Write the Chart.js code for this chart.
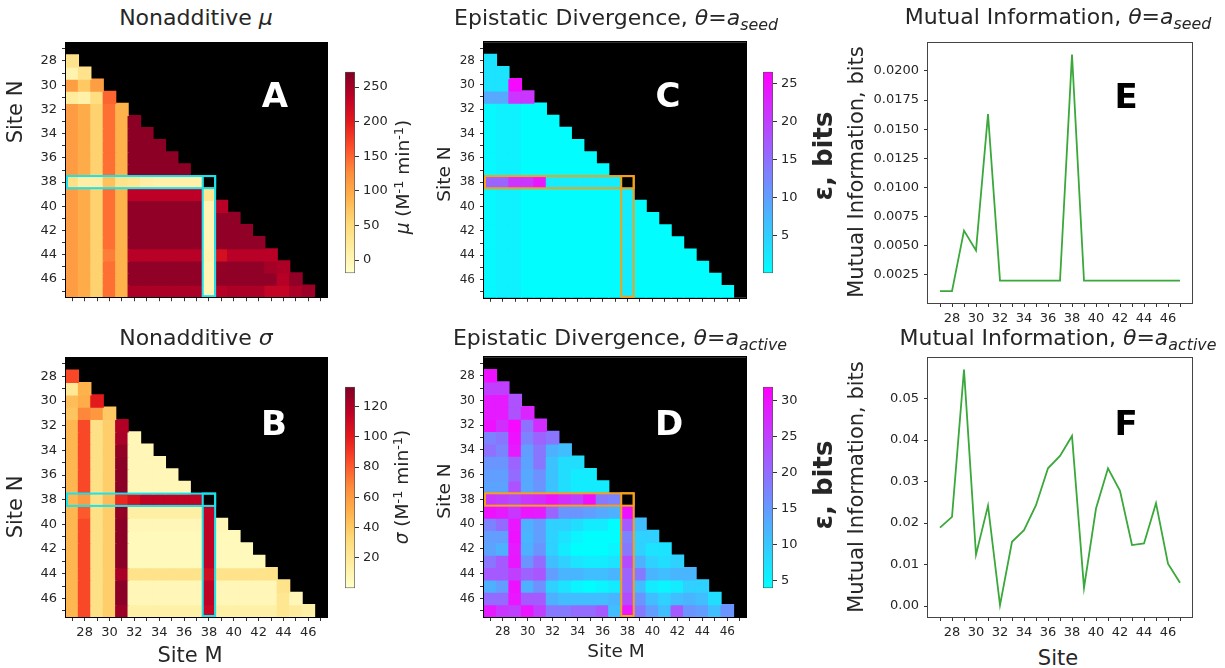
<!DOCTYPE html>
<html><head><meta charset="utf-8">
<script src="https://cdn.jsdelivr.net/npm/chart.js@4.4.0/dist/chart.umd.min.js"></script>
<style>
html,body{margin:0;padding:0;background:#fff;}
#wrap{position:relative;width:1225px;height:668px;overflow:hidden;font-family:'DejaVu Sans',sans-serif;color:#262626;}
canvas{position:absolute;}
.t{position:absolute;white-space:nowrap;transform:translate(-50%,-50%);line-height:1;}
.r{transform:translate(-50%,-50%) rotate(-90deg);}
.L{font-weight:bold;font-size:34px;}
sub{font-size:0.72em;vertical-align:-0.32em;line-height:0;}
sup{font-size:0.7em;vertical-align:0.45em;line-height:0;}
</style></head>
<body>
<div id="wrap">
<canvas id="hA" width="335" height="280" style="left:0px;top:30px"></canvas>
<canvas id="hB" width="335" height="300" style="left:0px;top:345px"></canvas>
<canvas id="hC" width="335" height="280" style="left:420px;top:30px"></canvas>
<canvas id="hD" width="335" height="300" style="left:420px;top:345px"></canvas>
<canvas id="cA" width="60" height="225" style="left:340px;top:60px"></canvas>
<canvas id="cB" width="60" height="225" style="left:340px;top:375px"></canvas>
<canvas id="cC" width="60" height="225" style="left:758px;top:60px"></canvas>
<canvas id="cD" width="60" height="225" style="left:758px;top:375px"></canvas>
<canvas id="lE" width="365" height="300" style="left:860px;top:30px"></canvas>
<canvas id="lF" width="365" height="300" style="left:860px;top:345px"></canvas>

<div class="t" style="left:196px;top:18px;font-size:22px">Nonadditive <i>μ</i></div>
<div class="t" style="left:616px;top:18px;font-size:22px">Epistatic Divergence, <i>θ</i>=<i>a</i><sub><i>seed</i></sub></div>
<div class="t" style="left:1058px;top:17px;font-size:22px">Mutual Information, <i>θ</i>=<i>a</i><sub><i>seed</i></sub></div>
<div class="t" style="left:196px;top:338px;font-size:22px">Nonadditive <i>σ</i></div>
<div class="t" style="left:620px;top:338px;font-size:22px">Epistatic Divergence, <i>θ</i>=<i>a</i><sub><i>active</i></sub></div>
<div class="t" style="left:1058px;top:338px;font-size:22px">Mutual Information, <i>θ</i>=<i>a</i><sub><i>active</i></sub></div>

<div class="t r" style="left:15px;top:112px;font-size:21px">Site N</div>
<div class="t r" style="left:15px;top:507px;font-size:21px">Site N</div>
<div class="t r" style="left:444px;top:174px;font-size:18.5px">Site N</div>
<div class="t r" style="left:444px;top:491px;font-size:18.5px">Site N</div>
<div class="t r" style="left:856px;top:172px;font-size:21px">Mutual Information, bits</div>
<div class="t r" style="left:856px;top:487px;font-size:21px">Mutual Information, bits</div>
<div class="t" style="left:190px;top:655px;font-size:21px">Site M</div>
<div class="t" style="left:616px;top:651px;font-size:18.5px">Site M</div>
<div class="t" style="left:1058px;top:658px;font-size:21px">Site</div>

<div class="t r" style="left:403px;top:177px;font-size:18.5px"><i>μ</i> (M<sup>-1</sup> min<sup>-1</sup>)</div>
<div class="t r" style="left:402px;top:487px;font-size:18.5px"><i>σ</i> (M<sup>-1</sup> min<sup>-1</sup>)</div>
<div class="t r" style="left:823px;top:156px;font-size:26px;font-weight:bold">ε, bits</div>
<div class="t r" style="left:823px;top:485px;font-size:26px;font-weight:bold">ε, bits</div>

<div class="t L" style="left:275px;top:95px;color:#fff">A</div>
<div class="t L" style="left:274px;top:423px;color:#fff">B</div>
<div class="t L" style="left:668px;top:95px;color:#fff">C</div>
<div class="t L" style="left:669px;top:423px;color:#fff">D</div>
<div class="t L" style="left:1126px;top:96px;color:#000">E</div>
<div class="t L" style="left:1126px;top:423px;color:#000">F</div>
</div>

<script>
// ---------------- data ----------------
const sites = [27,28,29,30,31,32,33,34,35,36,37,38,39,40,41,42,43,44,45,46,47];
const highlightSite = 38;

// Nonadditive mu: row N (28..47), values for M = 27..N-1
const muRows = [
  [35],
  [5, 35],
  [110, 70, 110],
  [20, 10, 45, 150],
  [112, 97, 60, 144, 90],
  [112, 97, 60, 144, 90, 265],
  [112, 97, 60, 144, 90, 265, 265],
  [112, 97, 60, 144, 90, 265, 265, 265],
  [112, 97, 60, 144, 90, 265, 265, 265, 265],
  [112, 97, 60, 144, 90, 265, 265, 265, 265, 265],
  [40, 15, 15, 75, 35, 30, 15, 10, 10, 10, 10],
  [112, 97, 60, 144, 90, 235, 235, 235, 235, 235, 235, 30],
  [112, 97, 60, 144, 90, 262, 262, 262, 262, 262, 262, 0, 238],
  [112, 97, 60, 144, 90, 262, 262, 262, 262, 262, 262, 0, 262, 262],
  [112, 97, 60, 144, 90, 262, 262, 262, 262, 262, 262, 0, 262, 262, 262],
  [112, 97, 60, 144, 90, 262, 262, 262, 262, 262, 262, 0, 262, 262, 262, 262],
  [112, 97, 60, 135, 90, 238, 238, 238, 238, 238, 238, 5, 215, 238, 238, 238, 238],
  [112, 97, 60, 144, 90, 262, 262, 262, 262, 262, 262, 0, 260, 262, 262, 262, 250, 245],
  [112, 97, 60, 144, 90, 262, 262, 262, 262, 262, 262, 0, 262, 262, 262, 262, 262, 240, 262],
  [112, 97, 60, 144, 90, 245, 245, 245, 245, 245, 245, 0, 240, 245, 245, 245, 230, 230, 245, 255]
];
const muRange = [-19, 272];
const muTicks = [0, 50, 100, 150, 200, 250];

// Nonadditive sigma
const sigmaRows = [
  [85],
  [20, 50],
  [45, 52, 100],
  [42, 68, 62, 40],
  [48, 85, 27, 38, 120],
  [48, 85, 27, 38, 122, 8],
  [48, 85, 27, 38, 128, 8, 8],
  [48, 85, 27, 38, 130, 8, 8, 8],
  [48, 85, 27, 38, 130, 8, 8, 8, 8],
  [48, 85, 27, 38, 130, 8, 8, 8, 8, 8],
  [48, 60, 27, 45, 95, 105, 115, 115, 115, 115, 115],
  [48, 80, 27, 38, 128, 15, 15, 15, 15, 15, 15, 115],
  [48, 85, 27, 38, 130, 8, 8, 8, 8, 8, 8, 115, 8],
  [48, 85, 27, 38, 130, 6, 6, 6, 6, 6, 6, 115, 6, 6],
  [48, 85, 27, 38, 130, 6, 6, 6, 6, 6, 6, 115, 6, 6, 6],
  [48, 85, 27, 38, 130, 6, 6, 6, 6, 6, 6, 115, 6, 6, 6, 6],
  [48, 85, 27, 38, 122, 25, 25, 25, 25, 25, 25, 108, 25, 25, 25, 25, 25],
  [48, 85, 27, 38, 130, 8, 8, 8, 8, 8, 8, 115, 8, 8, 8, 8, 8, 25],
  [48, 85, 27, 38, 130, 8, 8, 8, 8, 8, 8, 115, 8, 8, 8, 8, 8, 22, 8],
  [48, 85, 27, 38, 125, 14, 14, 14, 14, 14, 14, 112, 14, 14, 14, 14, 14, 22, 18, 14]
];
const sigmaRange = [0, 133];
const sigmaTicks = [20, 40, 60, 80, 100, 120];

// Epistatic divergence, theta = a_seed
const seedRows = [
  [3],
  [3, 3],
  [3, 3, 25.5],
  [9, 9, 21, 21],
  [0.8, 1.5, 1.5, 0.3, 0.3],
  [0.8, 1.5, 1.5, 0.3, 0.3, 0.3],
  [0.8, 1.5, 1.5, 0.3, 0.3, 0.3, 0.3],
  [0.8, 1.5, 1.5, 0.3, 0.3, 0.3, 0.3, 0.3],
  [0.8, 1.5, 1.5, 0.3, 0.3, 0.3, 0.3, 0.3, 0.3],
  [0.8, 1.5, 1.5, 0.3, 0.3, 0.3, 0.3, 0.3, 0.3, 0.3],
  [16, 16, 21, 21, 24, 2, 2, 2, 2, 2, 2],
  [0.8, 1.5, 1.5, 0.3, 0.3, 0.3, 0.3, 0.3, 0.3, 0.3, 0.3, 2],
  [0.8, 1.5, 1.5, 0.3, 0.3, 0.3, 0.3, 0.3, 0.3, 0.3, 0.3, 2, 0.3],
  [0.8, 1.5, 1.5, 0.3, 0.3, 0.3, 0.3, 0.3, 0.3, 0.3, 0.3, 2, 0.3, 0.3],
  [0.8, 1.5, 1.5, 0.3, 0.3, 0.3, 0.3, 0.3, 0.3, 0.3, 0.3, 2, 0.3, 0.3, 0.3],
  [0.8, 1.5, 1.5, 0.3, 0.3, 0.3, 0.3, 0.3, 0.3, 0.3, 0.3, 2, 0.3, 0.3, 0.3, 0.3],
  [0.8, 1.5, 1.5, 0.3, 0.3, 0.3, 0.3, 0.3, 0.3, 0.3, 0.3, 2, 0.3, 0.3, 0.3, 0.3, 0.3],
  [0.8, 1.5, 1.5, 0.3, 0.3, 0.3, 0.3, 0.3, 0.3, 0.3, 0.3, 2, 0.3, 0.3, 0.3, 0.3, 0.3, 0.3],
  [0.8, 1.5, 1.5, 0.3, 0.3, 0.3, 0.3, 0.3, 0.3, 0.3, 0.3, 2, 0.3, 0.3, 0.3, 0.3, 0.3, 0.3, 0.3],
  [0.8, 1.5, 1.5, 0.3, 0.3, 0.3, 0.3, 0.3, 0.3, 0.3, 0.3, 2, 0.3, 0.3, 0.3, 0.3, 0.3, 0.3, 0.3, 0.3]
];
const seedRange = [0.1, 26.5];
const seedTicks = [5, 10, 15, 20, 25];

// Epistatic divergence, theta = a_active
const activeRows = [
  [30],
  [25, 25],
  [29, 29, 23],
  [29, 29, 23, 28],
  [30, 27, 31, 19.5, 27],
  [17.5, 19, 30, 17.5, 21, 19],
  [19.5, 17.5, 29, 14.5, 19, 12.5, 11],
  [15.5, 15.5, 21, 14, 19, 10.5, 7.5, 7.5],
  [14.5, 14.5, 20, 13.5, 16, 10.5, 7.5, 6, 6],
  [14, 14, 23, 13.5, 15.5, 10.5, 7.5, 6, 6, 6],
  [26, 25, 23.5, 26, 27, 29.5, 27, 25, 30, 18.5, 17.5],
  [30, 29, 26, 29.5, 29, 21, 15.5, 15.5, 14.5, 13.5, 12.5, 30],
  [17.5, 20, 29.5, 12.5, 14.5, 9, 9, 7.5, 6, 6, 4, 22, 11],
  [14.5, 14.5, 30, 12, 14.5, 9, 7, 5, 4, 4, 4, 17.5, 9, 9],
  [14, 12.5, 29, 12.5, 15.5, 9, 6, 4, 4, 4, 5, 18.5, 9, 7, 7],
  [19, 22, 29.5, 15.5, 20, 11, 9, 7, 6, 6, 7, 23.5, 12.5, 9, 7.5, 9],
  [22, 22, 25, 21, 22.5, 14.5, 12, 12, 11, 11, 12, 21, 18.5, 12, 11, 12, 12],
  [12.5, 14.5, 30, 12.5, 16, 9, 7, 5, 4, 5, 6, 21, 11, 6, 5, 6, 9, 9],
  [20, 20, 29.5, 22, 22, 12.5, 11, 11, 11, 11, 12, 23.5, 15.5, 11, 9, 11, 12, 11, 7.5],
  [29, 26, 25, 29.5, 25, 18.5, 18.5, 20, 20, 22, 11, 29.5, 18.5, 14.5, 11, 22, 15.5, 14.5, 11, 15.5]
];
const activeRange = [3.9, 31.9];
const activeTicks = [5, 10, 15, 20, 25, 30];

// Mutual information per site
const miSeed = [0.0011, 0.0011, 0.0063, 0.0046, 0.0163, 0.0020, 0.0020, 0.0020, 0.0020, 0.0020, 0.0020,
                0.0214, 0.0020, 0.0020, 0.0020, 0.0020, 0.0020, 0.0020, 0.0020, 0.0020, 0.0020];
const miSeedTicks = [0.0025, 0.0050, 0.0075, 0.0100, 0.0125, 0.0150, 0.0175, 0.0200];
const miActive = [0.0189, 0.0215, 0.0570, 0.0124, 0.0242, 0.0002, 0.0155, 0.0183, 0.0243, 0.0332, 0.0362,
                  0.0410, 0.0044, 0.0235, 0.0332, 0.0278, 0.0147, 0.0151, 0.0248, 0.0102, 0.0056];
const miActiveTicks = [0.00, 0.01, 0.02, 0.03, 0.04, 0.05];

// ---------------- colour maps ----------------
const YLORRD = [[255,255,204],[255,237,160],[254,217,118],[254,178,76],[253,141,60],[252,78,42],[227,26,28],[189,0,38],[128,0,38]];
function clamp(t){ return Math.max(0, Math.min(1, t)); }
function ylorrd(t){
  t = clamp(t);
  const p = t * (YLORRD.length - 1);
  const i = Math.min(Math.floor(p), YLORRD.length - 2);
  const f = p - i, a = YLORRD[i], b = YLORRD[i + 1];
  return 'rgb(' + [0,1,2].map(k => Math.round(a[k] + (b[k] - a[k]) * f)).join(',') + ')';
}
function cool(t){
  t = clamp(t);
  return 'rgb(' + Math.round(255 * t) + ',' + Math.round(255 * (1 - t)) + ',255)';
}

// ---------------- helpers ----------------
Chart.defaults.font.family = "'DejaVu Sans', sans-serif";
Chart.defaults.font.size = 13;
Chart.defaults.color = '#262626';

const blackBg = { id: 'blackBg', beforeDatasetsDraw(chart){
  const a = chart.chartArea, c = chart.ctx;
  c.save(); c.fillStyle = '#000'; c.fillRect(a.left, a.top, a.right - a.left, a.bottom - a.top); c.restore();
}};
function frame(color){ return { id: 'frame', afterDraw(chart){
  const a = chart.chartArea, c = chart.ctx;
  c.save(); c.strokeStyle = color; c.lineWidth = 1;
  c.strokeRect(Math.round(a.left) - 0.5, Math.round(a.top) - 0.5, Math.round(a.right - a.left) + 1, Math.round(a.bottom - a.top) + 1);
  c.restore();
}};}
function highlight(color){ return { id: 'hl', afterDatasetsDraw(chart){
  const x = chart.scales.x, y = chart.scales.y, c = chart.ctx;
  const i = sites.indexOf(highlightSite), last = sites[sites.length - 1];
  const xl = x.getPixelForValue(-0.5), xa = x.getPixelForValue(i - 0.5), xb = x.getPixelForValue(i + 0.5);
  const ya = y.getPixelForValue(highlightSite - 0.5), yb = y.getPixelForValue(highlightSite + 0.5), yc = y.getPixelForValue(last + 0.5);
  c.save(); c.strokeStyle = color; c.lineWidth = 2;
  c.strokeRect(xl + 1, ya, xb - xl - 1, yb - ya);
  c.strokeRect(xa, ya, xb - xa, yc - ya - 1);
  c.restore();
}};}

function heatmap(id, rows, cmap, range, hlColor, cfg){
  const datasets = rows.map((vals, r) => {
    const N = sites[r + 1];
    return {
      data: sites.map((M, j) => j < vals.length ? [N - 0.5, N + 0.5] : null),
      backgroundColor: sites.map((M, j) => j < vals.length ? cmap((vals[j] - range[0]) / (range[1] - range[0])) : 'rgba(0,0,0,0)')
    };
  });
  new Chart(document.getElementById(id), {
    type: 'bar',
    data: { labels: sites.map(String), datasets },
    options: {
      responsive: false, animation: false, devicePixelRatio: 1, events: [],
      layout: { padding: { left: 0, right: cfg.pr, top: cfg.pt, bottom: 0 } },
      plugins: { legend: { display: false }, tooltip: { enabled: false } },
      datasets: { bar: { barPercentage: 1, categoryPercentage: 1, grouped: false, borderWidth: 0, inflateAmount: 0.6 } },
      scales: {
        x: {
          offset: true,
          grid: { offset: false, drawOnChartArea: false, tickLength: 4, color: '#333' },
          border: { display: false },
          ticks: { display: cfg.xlabels, autoSkip: false, maxRotation: 0, padding: 4, color: '#262626', font: { size: cfg.fs },
                   callback: (v, i) => sites[i] % 2 === 0 ? String(sites[i]) : '' },
          afterFit: s => { s.height = cfg.xh; }
        },
        y: {
          type: 'linear', reverse: true,
          min: sites[0] - 0.5, max: sites[sites.length - 1] + 0.5,
          afterBuildTicks: s => { s.ticks = sites.map(v => ({ value: v })); },
          grid: { drawOnChartArea: false, tickLength: 4, color: '#333' },
          border: { display: false },
          ticks: { autoSkip: false, padding: 5, color: '#262626', font: { size: cfg.fs }, callback: v => v % 2 === 0 ? String(v) : '' },
          afterFit: s => { s.width = cfg.yw; }
        }
      }
    },
    plugins: [blackBg, highlight(hlColor), frame('#000')]
  });
}

function colorbar(id, range, tickVals, cmap){
  new Chart(document.getElementById(id), {
    type: 'bar',
    data: { labels: [''], datasets: [{
      data: [[range[0], range[1]]],
      backgroundColor: c => {
        const a = c.chart.chartArea; if (!a) return '#888';
        const g = c.chart.ctx.createLinearGradient(0, a.bottom, 0, a.top);
        for (let k = 0; k <= 32; k++) g.addColorStop(k / 32, cmap(k / 32));
        return g;
      },
      borderColor: '#555', borderWidth: 1, borderSkipped: false,
      barPercentage: 1, categoryPercentage: 1
    }]},
    options: {
      responsive: false, animation: false, devicePixelRatio: 1, events: [],
      layout: { padding: { left: 5, right: 0, top: 6, bottom: 8 } },
      plugins: { legend: { display: false }, tooltip: { enabled: false } },
      scales: {
        x: { display: false },
        y: {
          position: 'right', min: range[0], max: range[1],
          afterBuildTicks: s => { s.ticks = tickVals.map(v => ({ value: v })); },
          grid: { drawOnChartArea: false, tickLength: 4, color: '#333' },
          border: { display: false },
          ticks: { padding: 4, color: '#262626', font: { size: 13 } },
          afterFit: s => { s.width = 45; }
        }
      }
    }
  });
}

function miChart(id, vals, tickVals, decimals, cfg){
  const lo = Math.min(...vals), hi = Math.max(...vals), m = 0.05 * (hi - lo);
  new Chart(document.getElementById(id), {
    type: 'line',
    data: { datasets: [{
      data: sites.map((s, i) => ({ x: s, y: vals[i] })),
      borderColor: '#3aa83a', borderWidth: 1.8, pointRadius: 0, fill: false, tension: 0
    }]},
    options: {
      responsive: false, animation: false, devicePixelRatio: 1, events: [],
      layout: { padding: { left: 0, right: cfg.pr, top: cfg.pt, bottom: 0 } },
      plugins: { legend: { display: false }, tooltip: { enabled: false } },
      scales: {
        x: {
          type: 'linear', min: sites[0] - 1, max: sites[sites.length - 1] + 1,
          afterBuildTicks: s => { s.ticks = sites.map(v => ({ value: v })); },
          grid: { drawOnChartArea: false, tickLength: 4, color: '#333' },
          border: { display: false },
          ticks: { autoSkip: false, maxRotation: 0, padding: 4, color: '#262626', font: { size: 13 }, callback: v => v % 2 === 0 ? String(v) : '' },
          afterFit: s => { s.height = cfg.xh; }
        },
        y: {
          min: lo - m, max: hi + m,
          afterBuildTicks: s => { s.ticks = tickVals.map(v => ({ value: v })); },
          grid: { drawOnChartArea: false, tickLength: 4, color: '#333' },
          border: { display: false },
          ticks: { padding: 5, color: '#262626', font: { size: 13 }, callback: v => Number(v).toFixed(decimals) },
          afterFit: s => { s.width = cfg.yw; }
        }
      }
    },
    plugins: [frame('#444')]
  });
}

// ---------------- build ----------------
heatmap('hA', muRows, ylorrd, muRange, '#19e3ec', { pr: 8, pt: 8, xh: 7, yw: 66, xlabels: false, fs: 13 });
heatmap('hB', sigmaRows, ylorrd, sigmaRange, '#19e3ec', { pr: 8, pt: 8, xh: 28, yw: 66, xlabels: true, fs: 13 });
heatmap('hC', seedRows, cool, seedRange, '#f5a01a', { pr: 9, pt: 9, xh: 8, yw: 64, xlabels: false, fs: 12 });
heatmap('hD', activeRows, cool, activeRange, '#f5a01a', { pr: 9, pt: 11, xh: 28, yw: 64, xlabels: true, fs: 12 });
colorbar('cA', muRange, muTicks, ylorrd);
colorbar('cB', sigmaRange, sigmaTicks, ylorrd);
colorbar('cC', seedRange, seedTicks, cool);
colorbar('cD', activeRange, activeTicks, cool);
miChart('lE', miSeed, miSeedTicks, 4, { pr: 33, pt: 10, xh: 27, yw: 68 });
miChart('lF', miActive, miActiveTicks, 2, { pr: 33, pt: 9, xh: 28, yw: 68 });
</script>
</body></html>
